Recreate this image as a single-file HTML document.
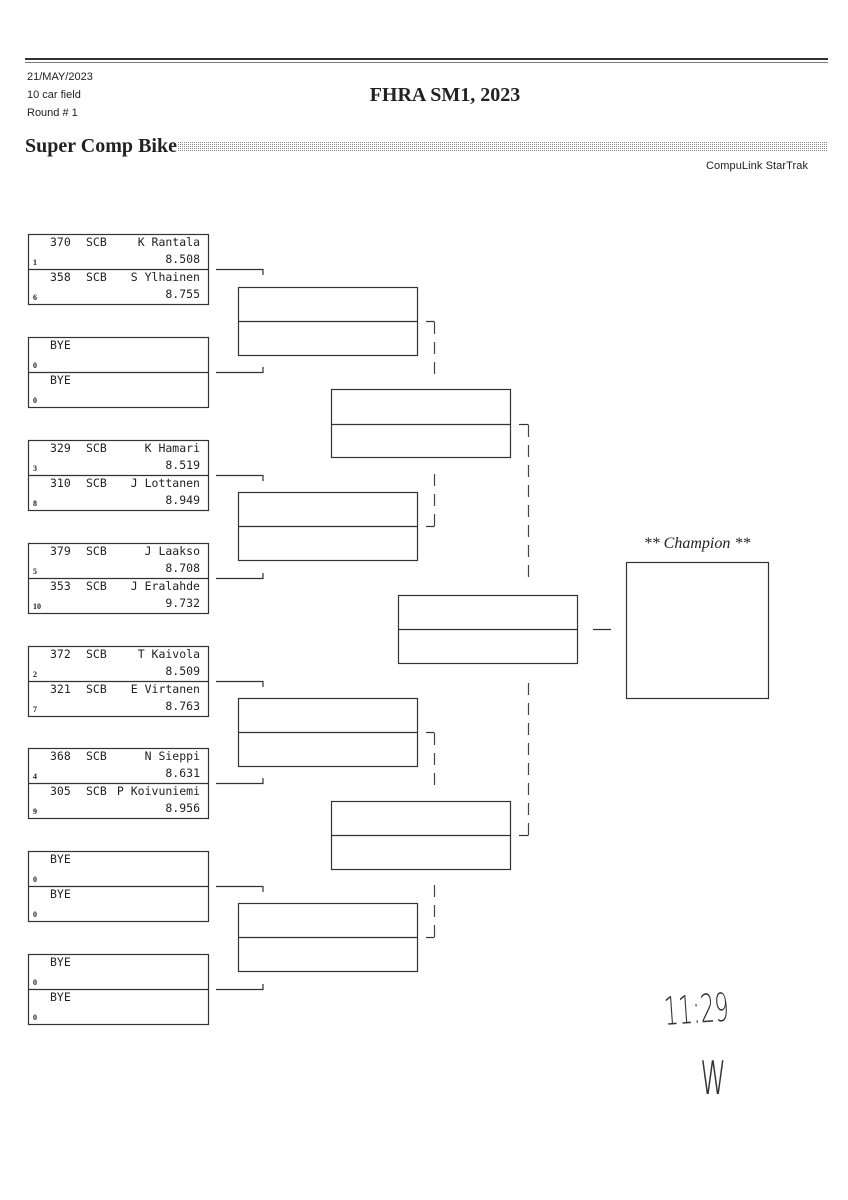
<!DOCTYPE html>
<html><head><meta charset="utf-8"><style>
html,body{margin:0;padding:0;background:#fff;}
svg{display:block}
.m{font-family:"DejaVu Sans Mono","Liberation Mono",monospace;font-size:11.5px;fill:#222}
.s{font-family:"Liberation Serif",serif;font-size:8px;fill:#222;font-weight:bold}
.h{font-family:"Liberation Sans",sans-serif;font-size:11px;fill:#222}
</style></head><body>
<svg width="848" height="1200" viewBox="0 0 848 1200" xmlns="http://www.w3.org/2000/svg">
<defs><pattern id="dots" width="2" height="2" patternUnits="userSpaceOnUse"><rect width="1" height="1" fill="#888"/></pattern></defs>
<rect x="25" y="58" width="803" height="2" fill="#333"/>
<rect x="25" y="62" width="803" height="1" fill="#777"/>
<text class="h" x="27" y="80">21/MAY/2023</text>
<text class="h" x="27" y="98">10 car field</text>
<text class="h" x="27" y="116">Round # 1</text>
<text x="445" y="101" text-anchor="middle" font-family="Liberation Serif,serif" font-weight="bold" font-size="20" fill="#222">FHRA SM1, 2023</text>
<text x="25" y="152" font-family="Liberation Serif,serif" font-weight="bold" font-size="20" fill="#222" textLength="152">Super Comp Bike</text>
<rect x="178" y="142" width="650" height="10" fill="url(#dots)"/>
<text class="h" x="706" y="169" textLength="102">CompuLink StarTrak</text>
<g fill="none" stroke="#333" stroke-width="1.2">
<rect x="28.5" y="234.5" width="180" height="70"/><line x1="28" y1="269.5" x2="208" y2="269.5"/>
<rect x="28.5" y="337.5" width="180" height="70"/><line x1="28" y1="372.5" x2="208" y2="372.5"/>
<rect x="28.5" y="440.5" width="180" height="70"/><line x1="28" y1="475.5" x2="208" y2="475.5"/>
<rect x="28.5" y="543.5" width="180" height="70"/><line x1="28" y1="578.5" x2="208" y2="578.5"/>
<rect x="28.5" y="646.5" width="180" height="70"/><line x1="28" y1="681.5" x2="208" y2="681.5"/>
<rect x="28.5" y="748.5" width="180" height="70"/><line x1="28" y1="783.5" x2="208" y2="783.5"/>
<rect x="28.5" y="851.5" width="180" height="70"/><line x1="28" y1="886.5" x2="208" y2="886.5"/>
<rect x="28.5" y="954.5" width="180" height="70"/><line x1="28" y1="989.5" x2="208" y2="989.5"/>
<path d="M216 269.5H263V275"/><path d="M216 372.5H263V367"/>
<path d="M216 475.5H263V481"/><path d="M216 578.5H263V573"/>
<path d="M216 681.5H263V687"/><path d="M216 783.5H263V778"/>
<path d="M216 886.5H263V892"/><path d="M216 989.5H263V984"/>
<rect x="238.5" y="287.5" width="179" height="68"/><line x1="238" y1="321.5" x2="418" y2="321.5"/>
<rect x="238.5" y="492.5" width="179" height="68"/><line x1="238" y1="526.5" x2="418" y2="526.5"/>
<rect x="238.5" y="698.5" width="179" height="68"/><line x1="238" y1="732.5" x2="418" y2="732.5"/>
<rect x="238.5" y="903.5" width="179" height="68"/><line x1="238" y1="937.5" x2="418" y2="937.5"/>
<rect x="331.5" y="389.5" width="179" height="68"/><line x1="331" y1="424.5" x2="511" y2="424.5"/>
<rect x="331.5" y="801.5" width="179" height="68"/><line x1="331" y1="835.5" x2="511" y2="835.5"/>
<rect x="398.5" y="595.5" width="179" height="68"/><line x1="398" y1="629.5" x2="578" y2="629.5"/>
<line x1="593" y1="629.5" x2="611" y2="629.5"/>
<rect x="626.5" y="562.5" width="142" height="136"/>
<path d="M426 321.5H434.5"/><path d="M426 526.5H434.5"/>
<path d="M426 732.5H434.5"/><path d="M426 937.5H434.5"/>
<path d="M519 424.5H528.5"/><path d="M519 835.5H528.5"/>
</g>
<g fill="none" stroke="#444" stroke-width="1.2" stroke-dasharray="12 8">
<line x1="434.5" y1="322" x2="434.5" y2="377"/>
<line x1="434.5" y1="526" x2="434.5" y2="470"/>
<line x1="434.5" y1="733" x2="434.5" y2="790"/>
<line x1="434.5" y1="937" x2="434.5" y2="883"/>
<line x1="528.5" y1="425" x2="528.5" y2="585"/>
<line x1="528.5" y1="835" x2="528.5" y2="678"/>
</g>
<text x="697" y="548" text-anchor="middle" font-family="Liberation Serif,serif" font-style="italic" font-size="16" fill="#222">** Champion **</text>
<g class="m">
<text x="50" y="246">370</text><text x="86" y="246">SCB</text><text x="200" y="246" text-anchor="end">K Rantala</text><text x="200" y="263" text-anchor="end">8.508</text>
<text x="50" y="281">358</text><text x="86" y="281">SCB</text><text x="200" y="281" text-anchor="end">S Ylhainen</text><text x="200" y="298" text-anchor="end">8.755</text>
<text x="50" y="349">BYE</text><text x="50" y="384">BYE</text>
<text x="50" y="452">329</text><text x="86" y="452">SCB</text><text x="200" y="452" text-anchor="end">K Hamari</text><text x="200" y="469" text-anchor="end">8.519</text>
<text x="50" y="487">310</text><text x="86" y="487">SCB</text><text x="200" y="487" text-anchor="end">J Lottanen</text><text x="200" y="504" text-anchor="end">8.949</text>
<text x="50" y="555">379</text><text x="86" y="555">SCB</text><text x="200" y="555" text-anchor="end">J Laakso</text><text x="200" y="572" text-anchor="end">8.708</text>
<text x="50" y="590">353</text><text x="86" y="590">SCB</text><text x="200" y="590" text-anchor="end">J Eralahde</text><text x="200" y="607" text-anchor="end">9.732</text>
<text x="50" y="658">372</text><text x="86" y="658">SCB</text><text x="200" y="658" text-anchor="end">T Kaivola</text><text x="200" y="675" text-anchor="end">8.509</text>
<text x="50" y="693">321</text><text x="86" y="693">SCB</text><text x="200" y="693" text-anchor="end">E Virtanen</text><text x="200" y="710" text-anchor="end">8.763</text>
<text x="50" y="760">368</text><text x="86" y="760">SCB</text><text x="200" y="760" text-anchor="end">N Sieppi</text><text x="200" y="777" text-anchor="end">8.631</text>
<text x="50" y="795">305</text><text x="86" y="795">SCB</text><text x="200" y="795" text-anchor="end">P Koivuniemi</text><text x="200" y="812" text-anchor="end">8.956</text>
<text x="50" y="863">BYE</text><text x="50" y="898">BYE</text>
<text x="50" y="966">BYE</text><text x="50" y="1001">BYE</text>
</g>
<g class="s">
<text x="33" y="265">1</text><text x="33" y="300">6</text>
<text x="33" y="368">0</text><text x="33" y="403">0</text>
<text x="33" y="471">3</text><text x="33" y="506">8</text>
<text x="33" y="574">5</text><text x="33" y="609">10</text>
<text x="33" y="677">2</text><text x="33" y="712">7</text>
<text x="33" y="779">4</text><text x="33" y="814">9</text>
<text x="33" y="882">0</text><text x="33" y="917">0</text>
<text x="33" y="985">0</text><text x="33" y="1020">0</text>
</g>
<text transform="translate(665,1025) rotate(-4) scale(0.75,1.3)" font-family="DejaVu Sans,sans-serif" font-size="30" font-weight="200" fill="#333">11:29</text>
<text transform="translate(700,1094) scale(0.9,1.7)" font-family="DejaVu Sans,sans-serif" font-size="36" font-weight="200" fill="#333">w</text>
</svg>
</body></html>
